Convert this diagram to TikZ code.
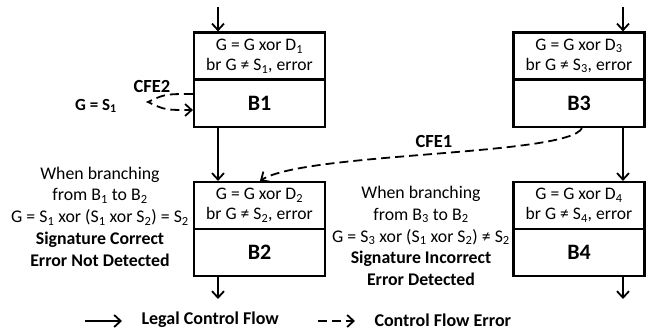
\documentclass[tikz,border=0pt]{standalone}
\usepackage{fontspec}
\setmainfont{Carlito}
\usetikzlibrary{arrows.meta}
\begin{document}
\begin{tikzpicture}[x=1pt,y=-1pt,
  box/.style={draw,line width=2.2pt,minimum width=131pt,inner sep=0pt,align=center},
  upbox/.style={box,minimum height=47pt,font=\fontsize{17.6}{20}\selectfont},
  lowbox/.style={box,minimum height=47pt,font=\fontsize{22}{24}\selectfont\bfseries},
  flow/.style={line width=1.8pt,-{Straight Barb[length=6.5pt,width=12pt,line width=1.8pt]}},
  cfe/.style={flow,dash pattern=on 9pt off 5pt},
  note/.style={align=center,font=\fontsize{17.8}{21.8}\selectfont},
  lbl/.style={font=\fontsize{18.5}{20}\selectfont\bfseries},
  legend/.style={anchor=west,font=\fontsize{18}{20}\selectfont\bfseries}]
\useasboundingbox (0,0) rectangle (646,330);
% boxes
\node[upbox] (B1u) at (259.5,56) {G = G xor D\textsubscript{1}\\br G ≠ S\textsubscript{1}, error};
\node[lowbox] (B1) at (259.5,103.5) {B1};
\node[upbox] (B3u) at (579,56) {G = G xor D\textsubscript{3}\\br G ≠ S\textsubscript{3}, error};
\node[lowbox] (B3) at (579,103.5) {B3};
\node[upbox] (B2u) at (259.5,205.5) {G = G xor D\textsubscript{2}\\br G ≠ S\textsubscript{2}, error};
\node[lowbox] (B2) at (259.5,252.5) {B2};
\node[upbox] (B4u) at (579,205.5) {G = G xor D\textsubscript{4}\\br G ≠ S\textsubscript{4}, error};
\node[lowbox] (B4) at (579,252.5) {B4};
% legal flow
\coordinate (in1) at (218,7);
\coordinate (in3) at (623,7);
\coordinate (out2) at (218,299);
\coordinate (out4) at (623,299);
\draw[flow] (in1) -- (in1 |- B1u.north);
\draw[flow] (in3) -- (in3 |- B3u.north);
\draw[flow] (B1.south -| in1) -- (B2u.north -| in1);
\draw[flow] (B3.south -| in3) -- (B4u.north -| in3);
\draw[flow] (B2.south -| out2) -- (out2);
\draw[flow] (B4.south -| out4) -- (out4);
% control flow errors
\coordinate (e1s) at (582,0);
\coordinate (e1e) at (260,0);
\draw[cfe] (B3.south -| e1s) .. controls (568,156) and (305,152) .. (B2u.north -| e1e);
\coordinate (e2a) at (0,94);
\coordinate (e2b) at (0,110);
\coordinate (e2v) at (148,102);
\draw[cfe] (B1.west |- e2a) .. controls (165,94) .. (e2v) .. controls (165,110) .. (B1.west |- e2b);
% labels
\node[lbl] (cfe2) at (152,86) {CFE2};
\node[lbl,font=\fontsize{17}{20}\selectfont\bfseries] (g1) at (96,106) {G = S\textsubscript{1}};
\node[lbl] (cfe1) at (434,141) {CFE1};
\node[note] (n1) at (100,216.5) {When branching\\from B\textsubscript{1} to B\textsubscript{2}\\G = S\textsubscript{1} xor (S\textsubscript{1} xor S\textsubscript{2}) = S\textsubscript{2}\\\textbf{Signature Correct}\\\textbf{Error Not Detected}};
\node[note] (n2) at (421,236) {When branching\\from B\textsubscript{3} to B\textsubscript{2}\\G = S\textsubscript{3} xor (S\textsubscript{1} xor S\textsubscript{2}) ≠ S\textsubscript{2}\\\textbf{Signature Incorrect}\\\textbf{Error Detected}};
% legend
\coordinate (la) at (85,321);
\coordinate (lb) at (122,321);
\coordinate (lc) at (318,321);
\coordinate (ld) at (355,321);
\draw[flow] (la) -- (lb);
\draw[cfe] (lc) -- (ld);
\node[legend] (leg1) at (138,320) {Legal Control Flow};
\node[legend] (leg2) at (371,320) {Control Flow Error};
\end{tikzpicture}
\end{document}
